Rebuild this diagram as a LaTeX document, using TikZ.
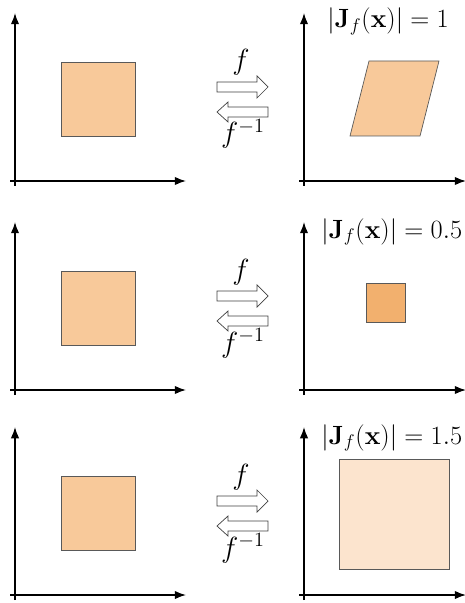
\documentclass[tikz,border=0pt]{standalone}
\usetikzlibrary{arrows.meta}
\definecolor{patch}{HTML}{F8C99A}
\definecolor{patchdark}{HTML}{F2B06E}
\definecolor{patchlight}{HTML}{FCE4CE}
\tikzset{
  axis/.style={line width=1pt,-{Latex[length=8pt,width=6pt]}},
  region/.style={draw=black!65,line width=0.5pt},
  flowarrow/.style={draw=black!75,fill=white,line width=0.5pt},
  lbl/.style={font=\fontsize{20.74}{24}\selectfont,inner sep=0pt},
  detlbl/.style={font=\fontsize{17.28}{20}\selectfont,inner sep=0pt,anchor=base west}
}
\newcommand{\detval}[1]{\scalebox{1.085}{$|\mathbf{J}_f(\mathbf{x})| = #1$}}
\begin{document}
\begin{tikzpicture}[x=0.025cm,y=-0.025cm]
\useasboundingbox (0,0) rectangle (465,603);

\foreach \dy/\r in {0/1,209/2,414/3}{
\begin{scope}[shift={(0,\dy)}]
% axes, left and right panels
\coordinate (lyb\r) at (15,186);
\coordinate (lyt\r) at (15,13);
\coordinate (lxl\r) at (10,181);
\coordinate (lxr\r) at (186,181);
\coordinate (ryb\r) at (304,186);
\coordinate (ryt\r) at (304,13);
\coordinate (rxl\r) at (299,181);
\coordinate (rxr\r) at (466,181);
\draw[axis] (lyb\r) -- (lyt\r);
\draw[axis] (lxl\r) -- (lxr\r);
\draw[axis] (ryb\r) -- (ryt\r);
\draw[axis] (rxl\r) -- (rxr\r);

% source square
\draw[region,fill=patch] (61,62) rectangle (135,136);

% forward and inverse maps
\draw[flowarrow] (217,82) -- (257,82) -- (257,76) -- (268,87) -- (257,98) -- (257,92) -- (217,92) -- cycle;
\draw[flowarrow] (268,107) -- (228,107) -- (228,102) -- (217,112) -- (228,122) -- (228,117) -- (268,117) -- cycle;
\node[lbl,anchor=base] (fwd\r) at (241,70) {$f$};
\node[lbl,anchor=base] (inv\r) at (243,143) {$f^{-1}$};
\end{scope}
}

% transformed regions
\draw[region,fill=patch] (350,136) -- (369,61) -- (439,61) -- (420,136) -- cycle;
\draw[region,fill=patchdark] (366,283) rectangle (405,322);
\draw[region,fill=patchlight] (339,459) rectangle (449,569);

\node[detlbl] (det1) at (327,28) {\detval{1}};
\node[detlbl] (det2) at (321,238) {\detval{0.5}};
\node[detlbl] (det3) at (321,444) {\detval{1.5}};
\end{tikzpicture}
\end{document}
